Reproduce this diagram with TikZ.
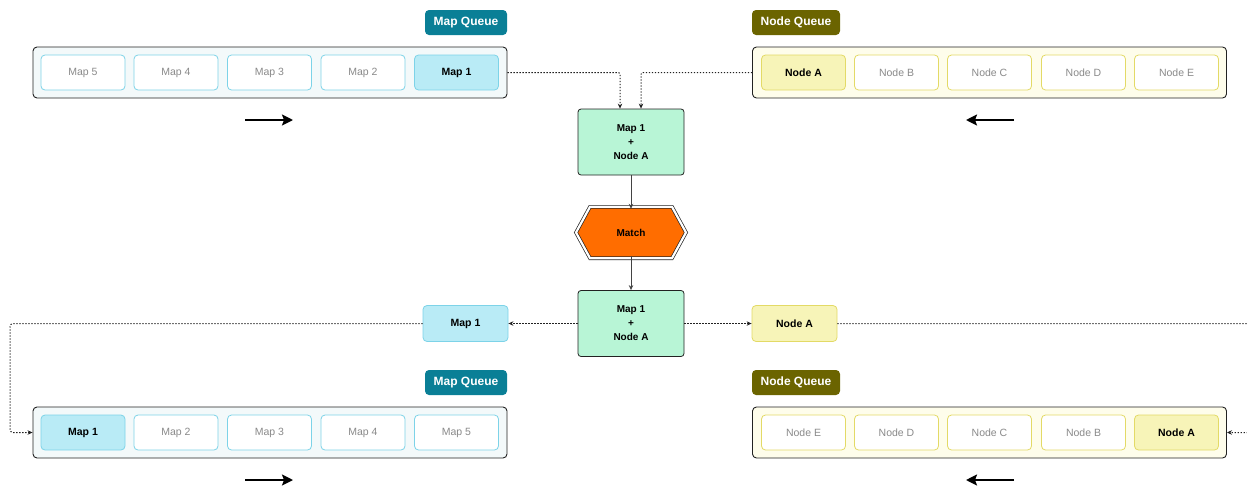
\documentclass[tikz,border=0pt]{standalone}
\usepackage{fontspec}
\setmainfont{Liberation Sans}
\usetikzlibrary{arrows.meta}
\definecolor{mapfill}{HTML}{B9EBF6}
\definecolor{mapborder}{HTML}{7DD3E8}
\definecolor{mapbg}{HTML}{F3F9FA}
\definecolor{mapq}{HTML}{0A7F96}
\definecolor{nodefill}{HTML}{F7F4B8}
\definecolor{nodeborder}{HTML}{E3DA66}
\definecolor{nodebg}{HTML}{FEFDEB}
\definecolor{nodeq}{HTML}{6B6400}
\definecolor{mint}{HTML}{B8F5D6}
\definecolor{orangefill}{HTML}{FF6D00}
\definecolor{edgec}{HTML}{222222}
\definecolor{idle}{HTML}{8A8A8A}
\tikzset{
  container/.style={draw=edgec, rounded corners=4pt, line width=0.9pt, minimum width=474pt, minimum height=51pt, inner sep=0pt},
  mapc/.style={container, fill=mapbg},
  nodec/.style={container, fill=nodebg},
  item/.style={rounded corners=4pt, line width=0.8pt, minimum width=84pt, minimum height=35pt, inner sep=0pt, font=\fontsize{10.5}{12}\selectfont},
  mapitem/.style={item, draw=mapborder, fill=white, text=idle},
  mapactive/.style={item, draw=mapborder, fill=mapfill, text=black, font=\bfseries\fontsize{10.5}{12}\selectfont},
  nodeitem/.style={item, draw=nodeborder, fill=white, text=idle},
  nodeactive/.style={item, draw=nodeborder, fill=nodefill, text=black, font=\bfseries\fontsize{10.5}{12}\selectfont},
  tag/.style={rounded corners=4pt, text=white, font=\bfseries\fontsize{12}{14}\selectfont, minimum height=25pt, inner sep=0pt},
  pair/.style={draw=edgec, fill=mint, rounded corners=3pt, line width=0.8pt, minimum width=106pt, minimum height=66pt, align=center, inner sep=0pt, font=\bfseries\fontsize{10}{14}\selectfont},
  flow/.style={dash pattern=on 1.3pt off 1.7pt, line width=1pt, draw=edgec, -{Stealth[length=5pt,width=4.5pt]}},
  link/.style={line width=0.9pt, draw=edgec!85, -{Stealth[length=5pt,width=4.5pt]}},
  move/.style={line width=2pt, -{Stealth[length=11pt,width=11pt,inset=2pt]}},
}
\begin{document}
\begin{tikzpicture}[x=1pt,y=-1pt]
\clip (0,0) rectangle (1247,485);
\useasboundingbox (0,0) rectangle (1247,485);

% ---------- top map queue ----------
\node[tag, fill=mapq, minimum width=82pt] (tmq) at (466,22.5) {Map Queue};
\node[mapc] (mq) at (270,72.5) {};
\node[mapitem] (m5) at (83,72.5) {Map 5};
\node[mapitem] (m4) at (176,72.5) {Map 4};
\node[mapitem] (m3) at (269.5,72.5) {Map 3};
\node[mapitem] (m2) at (363,72.5) {Map 2};
\node[mapactive] (m1) at (456.5,72.5) {Map 1};
\coordinate (ta1) at (245,120);
\coordinate (ta2) at (293,120);
\draw[move] (ta1) -- (ta2);

% ---------- top node queue ----------
\node[tag, fill=nodeq, minimum width=88pt] (tnq) at (796,22.5) {Node Queue};
\node[nodec] (nq) at (989.5,72.5) {};
\node[nodeactive] (na) at (803.5,72.5) {Node A};
\node[nodeitem] (nb) at (896.5,72.5) {Node B};
\node[nodeitem] (nc) at (989.5,72.5) {Node C};
\node[nodeitem] (nd) at (1083.5,72.5) {Node D};
\node[nodeitem] (ne) at (1176.5,72.5) {Node E};
\coordinate (tb1) at (1014,120);
\coordinate (tb2) at (966,120);
\draw[move] (tb1) -- (tb2);

% ---------- center ----------
\node[pair] (p1) at (631,142) {Map 1\\+\\Node A};
\node[inner sep=0pt, minimum width=110pt, minimum height=51pt] (match) at (631,232.5) {};
\fill[orangefill] ([xshift=-55pt]match.center) -- ([xshift=-41pt]match.north) -- ([xshift=41pt]match.north) -- ([xshift=55pt]match.center) -- ([xshift=41pt]match.south) -- ([xshift=-41pt]match.south) -- cycle;
\draw[edgec, line width=0.7pt, double=white, double distance=2.2pt] ([xshift=-55pt]match.center) -- ([xshift=-41pt]match.north) -- ([xshift=41pt]match.north) -- ([xshift=55pt]match.center) -- ([xshift=41pt]match.south) -- ([xshift=-41pt]match.south) -- cycle;
\node[font=\bfseries\fontsize{10}{12}\selectfont] at (match.center) {Match};
\node[pair] (p2) at (631,323.5) {Map 1\\+\\Node A};

\draw[flow, rounded corners=2pt] (mq.east) -| ([xshift=-11pt]p1.north);
\draw[flow, rounded corners=2pt] (nq.west) -| ([xshift=10pt]p1.north);
\draw[link] (p1.south) -- ([yshift=-2pt]match.north);
\draw[link] ([yshift=2pt]match.south) -- (p2.north);

% ---------- side nodes ----------
\node[mapactive, minimum width=85pt, minimum height=36pt] (sm) at (465.5,323.5) {Map 1};
\node[nodeactive, minimum width=85pt, minimum height=36pt] (sn) at (794.5,323.5) {Node A};
\draw[flow] (p2.west) -- (sm.east);
\draw[flow] (p2.east) -- (sn.west);

% ---------- bottom map queue ----------
\node[tag, fill=mapq, minimum width=82pt] (bmq) at (466,382.5) {Map Queue};
\node[mapc] (mqb) at (270,432.5) {};
\node[mapactive] (bm1) at (83,432.5) {Map 1};
\node[mapitem] (bm2) at (176,432.5) {Map 2};
\node[mapitem] (bm3) at (269.5,432.5) {Map 3};
\node[mapitem] (bm4) at (363,432.5) {Map 4};
\node[mapitem] (bm5) at (456.5,432.5) {Map 5};
\coordinate (ba1) at (245,480);
\coordinate (ba2) at (293,480);
\draw[move] (ba1) -- (ba2);

% ---------- bottom node queue ----------
\node[tag, fill=nodeq, minimum width=88pt] (bnq) at (796,382.5) {Node Queue};
\node[nodec] (nqb) at (989.5,432.5) {};
\node[nodeitem] (bne) at (803.5,432.5) {Node E};
\node[nodeitem] (bnd) at (896.5,432.5) {Node D};
\node[nodeitem] (bnc) at (989.5,432.5) {Node C};
\node[nodeitem] (bnb) at (1083.5,432.5) {Node B};
\node[nodeactive] (bna) at (1176.5,432.5) {Node A};
\coordinate (bb1) at (1014,480);
\coordinate (bb2) at (966,480);
\draw[move] (bb1) -- (bb2);

% ---------- return paths ----------
\coordinate (lturn) at (10,323.5);
\coordinate (rturn) at (1252,323.5);
\draw[flow, rounded corners=3pt] (sm.west) -- (lturn) |- (mqb.west);
\draw[flow, rounded corners=3pt] (sn.east) -- (rturn) |- (nqb.east);
\end{tikzpicture}
\end{document}
